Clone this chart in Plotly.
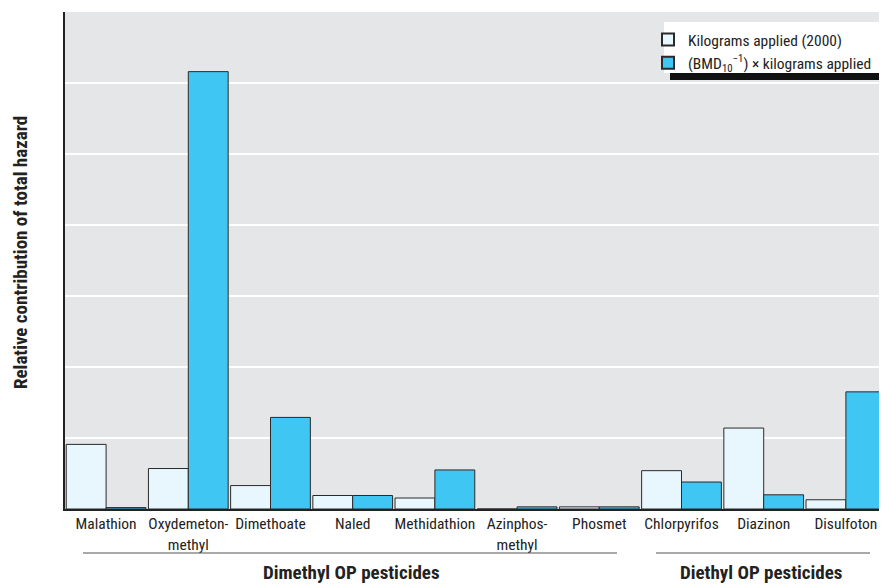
import plotly.graph_objects as go

categories = ["Malathion", "Oxydemeton-<br>methyl", "Dimethoate", "Naled", "Methidathion",
              "Azinphos-<br>methyl", "Phosmet", "Chlorpyrifos", "Diazinon", "Disulfoton"]
kg_applied = [0.91, 0.57, 0.33, 0.19, 0.155, 0.0, 0.03, 0.54, 1.14, 0.13]
bmd_weighted = [0.02, 6.16, 1.29, 0.19, 0.55, 0.03, 0.03, 0.38, 0.20, 1.65]
group_labels = ["Dimethyl OP pesticides", "Diethyl OP pesticides"]

FONT = "Liberation Sans Narrow, Arial Narrow, Roboto Condensed, Liberation Sans, sans-serif"

fig = go.Figure()
fig.add_trace(go.Bar(
    x=categories, y=kg_applied, name="Kilograms applied (2000)",
    marker=dict(color="#e8f6fd", line=dict(color="#2a2a2a", width=1)),
))
fig.add_trace(go.Bar(
    x=categories, y=bmd_weighted,
    name="(BMD<sub>10</sub><sup>\u22121</sup>) \u00d7 kilograms applied",
    marker=dict(color="#40c6f2", line=dict(color="#2a2a2a", width=1)),
))

# the page places the figure 8px from the top-left corner of the window
OFF = 8
W, H = 887 - OFF, 585 - OFF
L, R, T, B = 65 - OFF, 0, 12 - OFF, 585 - 509
pw, ph = W - L - R, H - T - B

def px(x):
    return (x - OFF - L) / pw

def py(y):
    return (H - B - (y - OFF)) / ph

shapes = [
    # legend shadow and box
    dict(type="rect", xref="paper", yref="paper", x0=px(670), x1=px(890), y0=py(80), y1=py(28),
         fillcolor="#111111", line=dict(width=0), layer="above"),
    dict(type="rect", xref="paper", yref="paper", x0=px(664), x1=px(884), y0=py(73), y1=py(22),
         fillcolor="white", line=dict(width=0), layer="above"),
    # group lines
    dict(type="line", xref="paper", yref="paper", x0=px(83), x1=px(617), y0=py(553), y1=py(553),
         line=dict(color="#555555", width=1.2)),
    dict(type="line", xref="paper", yref="paper", x0=px(656), x1=px(870), y0=py(553), y1=py(553),
         line=dict(color="#555555", width=1.2)),
]

annotations = [
    dict(text="<b>" + group_labels[0] + "</b>", xref="paper", yref="paper", x=px(351), y=py(572),
         showarrow=False, font=dict(size=19, color="#222222", family=FONT), xanchor="center", yanchor="middle"),
    dict(text="<b>" + group_labels[1] + "</b>", xref="paper", yref="paper", x=px(761), y=py(572),
         showarrow=False, font=dict(size=19, color="#222222", family=FONT), xanchor="center", yanchor="middle"),
    dict(text="<b>Relative contribution of total hazard</b>", xref="paper", yref="paper", x=px(21), y=py(253),
         textangle=-90, showarrow=False, font=dict(size=19, color="#222222", family=FONT),
         xanchor="center", yanchor="middle"),
]

fig.update_layout(
    width=W, height=H,
    margin=dict(l=L, r=R, t=T, b=B, pad=0),
    paper_bgcolor="white", plot_bgcolor="#e5e6e8",
    barmode="group", bargap=0.03, bargroupgap=0,
    font=dict(family=FONT, size=16, color="#222222"),
    showlegend=True,
    legend=dict(x=px(648), y=py(23), xanchor="left", yanchor="top",
                bgcolor="rgba(0,0,0,0)", borderwidth=0, font=dict(size=15.5, family=FONT, color="#222222"),
                tracegroupgap=0, itemsizing="constant"),
    shapes=shapes, annotations=annotations,
    xaxis=dict(showline=True, linecolor="#222222", linewidth=1.5, ticks="", showgrid=False,
               tickfont=dict(size=15.5, family=FONT, color="#222222")),
    yaxis=dict(range=[0, 7], dtick=1, showticklabels=False, ticks="", showline=True,
               linecolor="#222222", linewidth=1.5, gridcolor="white", gridwidth=1.5, zeroline=False),
)

fig.write_html("out.html")
